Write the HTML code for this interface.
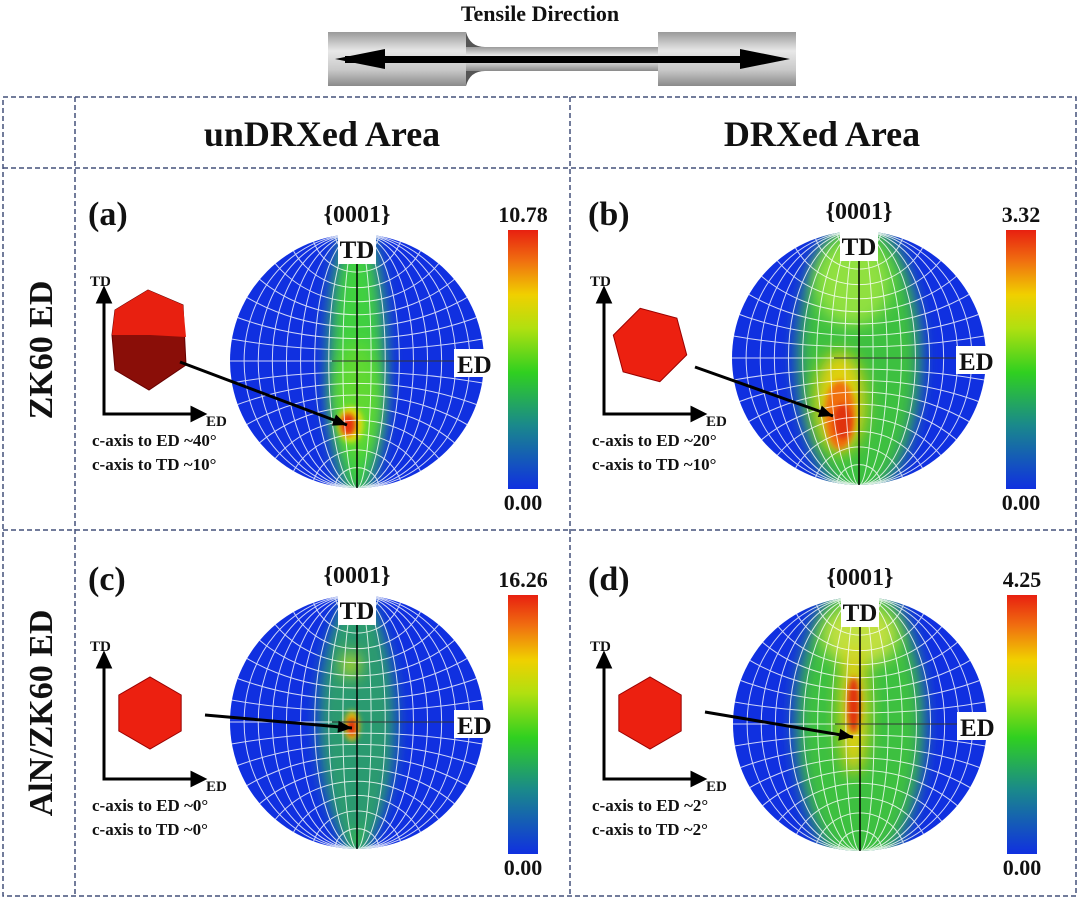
<!DOCTYPE html>
<html><head><meta charset="utf-8"><style>
html,body{margin:0;padding:0;background:#fff;width:1080px;height:900px;overflow:hidden}
svg{display:block;overflow:hidden}
text{font-family:"Liberation Serif",serif;font-weight:bold;fill:#111}
</style></head><body>
<svg id="fig" width="1080" height="900" viewBox="0 0 1080 900">
<defs>
<linearGradient id="grip" x1="0" y1="0" x2="0" y2="1"><stop offset="0" stop-color="#9a9a9a"/><stop offset="0.35" stop-color="#e8e8e8"/><stop offset="0.7" stop-color="#c9c9c9"/><stop offset="1" stop-color="#8a8a8a"/></linearGradient>
<linearGradient id="cbar" x1="0" y1="1" x2="0" y2="0"><stop offset="0" stop-color="#1030e0"/><stop offset="0.25" stop-color="#1a8a8a"/><stop offset="0.45" stop-color="#30d020"/><stop offset="0.62" stop-color="#b0e010"/><stop offset="0.75" stop-color="#f0d000"/><stop offset="0.88" stop-color="#f07010"/><stop offset="1" stop-color="#e82010"/></linearGradient>
<filter id="blur8" x="-50%" y="-50%" width="200%" height="200%"><feGaussianBlur stdDeviation="8"/></filter>
<filter id="blur4" x="-50%" y="-50%" width="200%" height="200%"><feGaussianBlur stdDeviation="3"/></filter>
</defs>
<g>
<text x="540" y="21" font-size="22" text-anchor="middle">Tensile Direction</text>
<rect x="328" y="32" width="138" height="54" fill="url(#grip)"/>
<rect x="658" y="32" width="138" height="54" fill="url(#grip)"/>
<rect x="466" y="47" width="192" height="24" fill="url(#grip)"/>
<path d="M466 32 Q470 47 485 47 L466 47 Z M466 86 Q470 71 485 71 L466 71 Z" fill="#555"/>
<rect x="345" y="56" width="420" height="7" fill="#000"/>
<polygon points="335,59 385,49 385,69" fill="#000"/>
<polygon points="790,59 740,49 740,69" fill="#000"/>
</g>
<g stroke="#44507a" stroke-width="1.5" stroke-dasharray="5,3" fill="none">
<rect x="3" y="97" width="1073" height="799"/>
<line x1="75" y1="97" x2="75" y2="896"/>
<line x1="570" y1="97" x2="570" y2="896"/>
<line x1="3" y1="168" x2="1076" y2="168"/>
<line x1="3" y1="530" x2="1076" y2="530"/>
</g>
<text x="322" y="146" font-size="36" text-anchor="middle">unDRXed Area</text>
<text x="822" y="146" font-size="36" text-anchor="middle">DRXed Area</text>
<text transform="translate(52,350) rotate(-90)" font-size="34" text-anchor="middle">ZK60 ED</text>
<text transform="translate(52,713) rotate(-90)" font-size="34" text-anchor="middle">AlN/ZK60 ED</text>
<g id="panels"></g>
</svg>
<script>
const panelLabels = ['(a)','(b)','(c)','(d)'];
const maxValues = ['10.78','3.32','16.26','4.25'];
const minValues = ['0.00','0.00','0.00','0.00'];
const edAngles = ['~40°','~20°','~0°','~2°'];
const tdAngles = ['~10°','~10°','~0°','~2°'];
// blobs per panel: [dx, dy, rx, ry, color, sharp] relative to circle center (fraction of radius)
const blobsA = [[0,0,0.22,1.1,'#40d040',0],[0,0.3,0.18,0.45,'#60d830',0],[-0.05,0.5,0.1,0.14,'#e0e010',1],[-0.07,0.5,0.06,0.09,'#e83010',1]];
const blobsB = [[0,0,0.48,1.1,'#3cc040',0],[-0.05,-0.6,0.3,0.35,'#90e040',0],[-0.15,0.35,0.2,0.4,'#e0d010',0],[-0.15,0.45,0.12,0.27,'#f07010',1],[-0.13,0.5,0.07,0.14,'#e03010',1]];
const blobsC = [[0,0,0.17,1.1,'#40d040',0],[0,0,0.3,0.9,'#2a9a70',0],[-0.05,-0.45,0.07,0.1,'#c0e020',0],[-0.04,0.03,0.06,0.12,'#e0c010',1],[-0.04,0.04,0.035,0.07,'#e02010',1]];
const blobsD = [[0,0,0.5,1.15,'#3cc040',0],[0,-0.7,0.3,0.25,'#c0e040',0],[-0.05,-0.1,0.11,0.5,'#e8d010',0],[-0.05,-0.15,0.05,0.22,'#e03010',1]];
const blobSets = [blobsA, blobsB, blobsC, blobsD];
const NS='http://www.w3.org/2000/svg';
const root=document.getElementById('panels');
function mk(tag,attrs,parent){const e=document.createElementNS(NS,tag);for(const k in attrs)e.setAttribute(k,attrs[k]);(parent||root).appendChild(e);return e;}
const geo=[{ox:0,oy:0,cx:357,cy:361,bx:508},{ox:500,oy:0,cx:859,cy:358,bx:1006},{ox:0,oy:365,cx:357,cy:722,bx:508},{ox:500,oy:365,cx:860,cy:724,bx:1007}];
const R=127;
panelLabels.forEach((lab,i)=>{
 const g=geo[i];
 const grp=mk('g',{});
 
 
 const t=mk('text',{x:88+g.ox,y:225+g.oy,'font-size':34},grp);t.textContent=lab;
 
 const h=mk('text',{x:g.cx,y:g.cy-R-12,'font-size':24,'text-anchor':'middle'},grp);h.textContent='{0001}';
 
 const cid='clip'+i;
 const cp=mk('clipPath',{id:cid},grp);mk('circle',{cx:g.cx,cy:g.cy,r:R},cp);
 const pf=mk('g',{'clip-path':'url(#'+cid+')'},grp);
 
 mk('rect',{x:g.cx-R,y:g.cy-R,width:2*R,height:2*R,fill:'#1030e0'},pf);
 blobSets[i].forEach(b=>{const e=mk('ellipse',{cx:g.cx+b[0]*R,cy:g.cy+b[1]*R,rx:b[2]*R,ry:b[3]*R,fill:b[4],filter:b[5]?'url(#blur4)':'url(#blur8)'},pf);
  });
 const net=mk('g',{stroke:'#fff','stroke-width':1,fill:'none',opacity:0.8},pf);
 for(let k=1;k<9;k++){mk('ellipse',{cx:g.cx,cy:g.cy,rx:R*k/9,ry:R},net);}
 for(let k=1;k<9;k++){const th=k*10*Math.PI/180;const rr=R*Math.tan(th),d=R/Math.cos(th);
  mk('circle',{cx:g.cx,cy:g.cy-d,r:rr},net);mk('circle',{cx:g.cx,cy:g.cy+d,r:rr},net);}
 mk('line',{x1:g.cx-R,y1:g.cy,x2:g.cx+R,y2:g.cy},net);
 mk('line',{x1:g.cx,y1:g.cy-R,x2:g.cx,y2:g.cy+R,stroke:'#000','stroke-width':1.5},pf);
 mk('line',{x1:g.cx-25,y1:g.cy,x2:g.cx+R,y2:g.cy,stroke:'#333','stroke-width':1},pf);
 mk('rect',{x:g.cx-19,y:g.cy-R-2,width:38,height:32,fill:'#fff'},grp);
 const td=mk('text',{x:g.cx,y:g.cy-R+24,'font-size':25,'text-anchor':'middle'},grp);td.textContent='TD';
 
 mk('rect',{x:g.cx+R-30,y:g.cy-12,width:42,height:28,fill:'#fff'},grp);
 const ed=mk('text',{x:g.cx+R-27,y:g.cy+12,'font-size':25},grp);ed.textContent='ED';
 
 const cb=mk('rect',{x:g.bx,y:230+g.oy,width:30,height:259,fill:'url(#cbar)'},grp);
 
 const mx=mk('text',{x:g.bx+15,y:222+g.oy,'font-size':22,'text-anchor':'middle'},grp);mx.textContent=maxValues[i];
 
 const mn=mk('text',{x:g.bx+15,y:510+g.oy,'font-size':22,'text-anchor':'middle'},grp);mn.textContent=minValues[i];
 
 const ax=mk('g',{stroke:'#000','stroke-width':3,fill:'none'},grp);
 
 const x0=104+g.ox,y0=414+g.oy;
 mk('polyline',{points:`${x0},${y0-115} ${x0},${y0} ${x0+90},${y0}`},ax);
 mk('polygon',{points:`${x0-6},${y0-112} ${x0},${y0-125} ${x0+6},${y0-112}`,fill:'#000'},ax);
 mk('polygon',{points:`${x0+88},${y0-6} ${x0+100},${y0} ${x0+88},${y0+6}`,fill:'#000'},ax);
 const at=mk('text',{x:x0-14,y:y0-128,'font-size':15},grp);at.textContent='TD';
 const ae=mk('text',{x:x0+102,y:y0+12,'font-size':15},grp);ae.textContent='ED';
 const hx=150+g.ox;
 const cy2=i<2?345+g.oy:713;
 const cr=mk('g',{},grp);
 if(i===0){
  mk('polygon',{points:`${hx-35},${cy2-35} ${hx-2},${cy2-55} ${hx+33},${cy2-40} ${hx+36},${cy2+20} ${hx-1},${cy2+45} ${hx-35},${cy2+25} ${hx-38},${cy2-10}`,fill:'#8a0e08',stroke:'#600'},cr);
  mk('polygon',{points:`${hx-35},${cy2-35} ${hx-2},${cy2-55} ${hx+33},${cy2-40} ${hx+36},${cy2-8} ${hx},${cy2-10} ${hx-38},${cy2-10}`,fill:'#e82010'},cr);
 } else {
  const rr=i===1?38:36;let pts='';for(let k=0;k<6;k++){const a=(k*60+(i===1?15:30))*Math.PI/180;pts+=`${hx+rr*Math.cos(a)},${cy2+rr*Math.sin(a)} `;}
  mk('polygon',{points:pts,fill:'#ec2010',stroke:'#900'},cr);
 }
 const targets=[[347,425],[833,416],[352,728],[853,737]];
 const sx=(i===0?180:i===1?195:205)+g.ox, sy=i===0?362:i===1?367:i===2?715:712;
 mk('line',{x1:sx,y1:sy,x2:targets[i][0],y2:targets[i][1],stroke:'#000','stroke-width':3},grp);
 const ang=Math.atan2(targets[i][1]-sy,targets[i][0]-sx);
 const tx=targets[i][0],ty=targets[i][1];
 mk('polygon',{points:`${tx},${ty} ${tx-14*Math.cos(ang)+6*Math.sin(ang)},${ty-14*Math.sin(ang)-6*Math.cos(ang)} ${tx-14*Math.cos(ang)-6*Math.sin(ang)},${ty-14*Math.sin(ang)+6*Math.cos(ang)}`,fill:'#000'},grp);
 const l1=mk('text',{x:92+g.ox,y:446+g.oy,'font-size':17},grp);l1.textContent='c-axis to ED '+edAngles[i];
 
 const l2=mk('text',{x:92+g.ox,y:470+g.oy,'font-size':17},grp);l2.textContent='c-axis to TD '+tdAngles[i];
 
});
</script>
</body></html>
